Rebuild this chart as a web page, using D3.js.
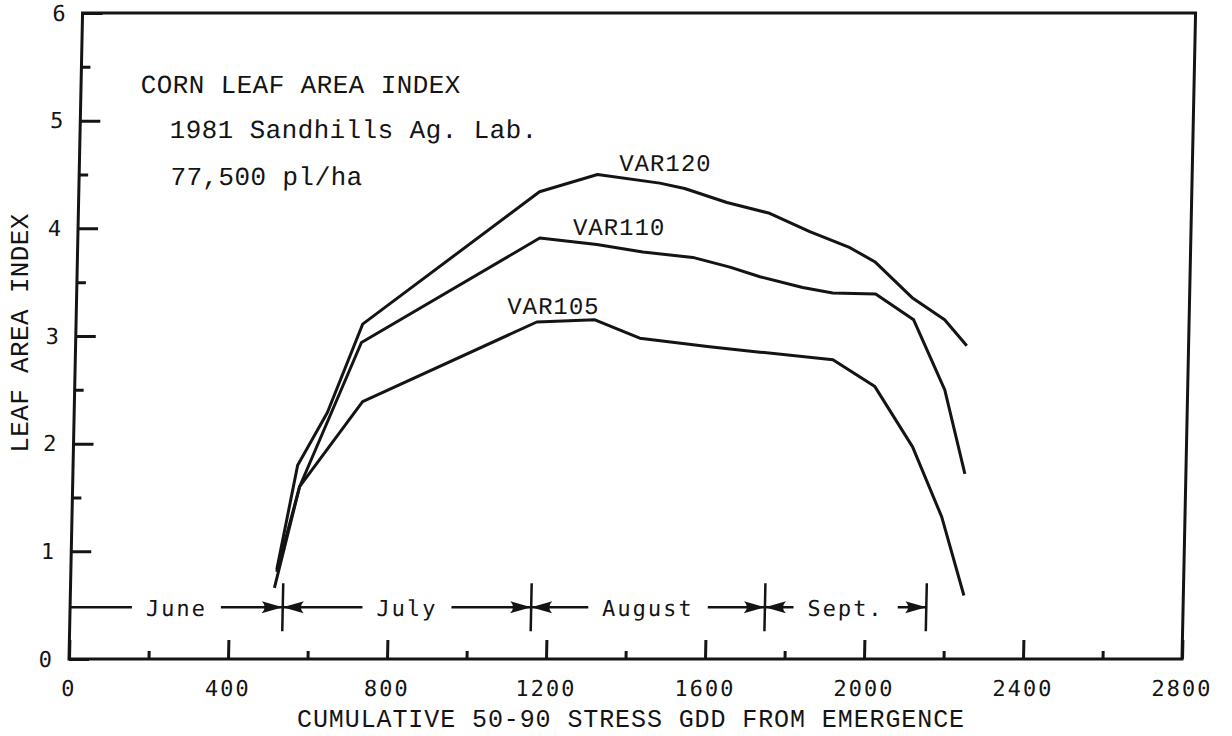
<!DOCTYPE html>
<html><head><meta charset="utf-8">
<script src="https://cdn.jsdelivr.net/npm/d3@7"></script>
<style>body{margin:0;background:#fff}</style>
</head><body>
<svg id="c" width="1232" height="736"></svg>
<script>
// ---- data ----
const gdd120 = [518, 565, 637, 721, 1159, 1304, 1461, 1524, 1631, 1739, 1841, 1943, 2006, 2104, 2185, 2242];
const lai120 = [0.83, 1.80, 2.29, 3.11, 4.34, 4.50, 4.42, 4.37, 4.24, 4.14, 3.97, 3.82, 3.69, 3.35, 3.15, 2.91];
const gdd110 = [518, 571, 719, 1162, 1306, 1422, 1548, 1642, 1718, 1826, 1902, 2010, 2107, 2189, 2244];
const lai110 = [0.81, 1.60, 2.94, 3.91, 3.85, 3.78, 3.73, 3.64, 3.55, 3.45, 3.40, 3.39, 3.15, 2.50, 1.72];
const gdd105 = [513, 571, 725, 1159, 1305, 1419, 1595, 1722, 1906, 2013, 2111, 2188, 2248];
const lai105 = [0.66, 1.60, 2.39, 3.13, 3.15, 2.98, 2.90, 2.85, 2.78, 2.53, 1.97, 1.32, 0.59];
const seriesNames = ["VAR120", "VAR110", "VAR105"];

const months = ["June", "July", "August", "Sept."];
const monthBounds = [0, 535, 1160, 1748, 2154];
const monthLevel = 0.48;

const xMajor = [0, 400, 800, 1200, 1600, 2000, 2400, 2800];
const xMinor = [200, 600, 1000, 1400, 1800, 2200, 2600];
const yMajor = [0, 1, 2, 3, 4, 5, 6];
const yMinor = [1.5, 2.5, 3.5, 4.5, 5.5];

const titleLines = ["CORN LEAF AREA INDEX", "1981 Sandhills Ag. Lab.", "77,500 pl/ha"];
const xTitle = "CUMULATIVE 50-90 STRESS GDD FROM EMERGENCE";
const yTitle = "LEAF AREA INDEX";

// ---- layout ----
const svg = d3.select("#c");
const x = d3.scaleLinear().domain([0, 2800]).range([69, 1182]);
const y = d3.scaleLinear().domain([0, 6]).range([659, 13]);
const ink = "#141414";
const mono = "'Liberation Mono', monospace";
const gothic = "'DejaVu Sans Mono', monospace";
const skewDeg = -Math.atan(0.021) * 180 / Math.PI;

const g = svg.append("g")
  .attr("transform", `translate(0,${y(0)}) skewX(${skewDeg}) translate(0,${-y(0)})`);

// frame
g.append("rect")
  .attr("x", x(0)).attr("y", y(6))
  .attr("width", x(2800) - x(0)).attr("height", y(0) - y(6))
  .attr("fill", "none").attr("stroke", ink).attr("stroke-width", 3);

function styleAxis(sel, w) {
  sel.select(".domain").remove();
  sel.selectAll(".tick line").attr("stroke", ink).attr("stroke-width", w);
  sel.selectAll(".tick text").attr("fill", ink)
    .attr("font-family", gothic).attr("font-size", 22).attr("letter-spacing", 2);
}

g.append("g").attr("transform", `translate(0,${y(0)})`)
  .call(d3.axisBottom(x).tickValues(xMajor).tickSize(-19).tickPadding(21).tickFormat(d3.format("d")))
  .call(s => styleAxis(s, 3));
g.append("g").attr("transform", `translate(0,${y(0)})`)
  .call(d3.axisBottom(x).tickValues(xMinor).tickSize(-8).tickFormat(""))
  .call(s => styleAxis(s, 3));
g.append("g").attr("transform", `translate(${x(0)},0)`)
  .call(d3.axisLeft(y).tickValues(yMajor).tickSize(-20).tickPadding(15).tickFormat(d3.format("d")))
  .call(s => styleAxis(s, 3));
g.append("g").attr("transform", `translate(${x(0)},0)`)
  .call(d3.axisLeft(y).tickValues(yMinor).tickSize(-9).tickFormat(""))
  .call(s => styleAxis(s, 3));

// curves
const line = d3.line().x(d => x(d[0])).y(d => y(d[1]));
[[gdd120, lai120], [gdd110, lai110], [gdd105, lai105]].forEach(([gx, ly]) => {
  g.append("path").datum(d3.zip(gx, ly)).attr("d", line)
    .attr("fill", "none").attr("stroke", ink).attr("stroke-width", 3)
    .attr("stroke-linejoin", "round").attr("stroke-linecap", "butt");
});

// series labels (anchors in data units)
const labelAt = [[1358, 4.53], [1245, 3.94], [1084, 3.20]];
seriesNames.forEach((n, i) => {
  g.append("text").attr("x", x(labelAt[i][0])).attr("y", y(labelAt[i][1]))
    .attr("font-family", mono).attr("font-size", 24).attr("letter-spacing", 1)
    .attr("fill", ink).text(n);
});

// title block
const titleAt = [[150, 5.26], [225, 4.84], [230, 4.40]];
titleLines.forEach((t, i) => {
  g.append("text").attr("x", x(titleAt[i][0])).attr("y", y(titleAt[i][1]))
    .attr("font-family", mono).attr("font-size", 26).attr("letter-spacing", 0.4)
    .attr("fill", ink).text(t);
});

// month bar
const my = y(monthLevel);
months.forEach((m, i) => {
  const b0 = monthBounds[i], b1 = monthBounds[i + 1];
  const t = g.append("text").attr("x", x((b0 + b1) / 2)).attr("y", my + 1)
    .attr("text-anchor", "middle").attr("dominant-baseline", "central")
    .attr("font-family", gothic).attr("font-size", 22).attr("letter-spacing", 2)
    .attr("fill", ink).text(m);
  const bb = t.node().getBBox();
  const pad = 14;
  g.append("line").attr("x1", x(b0)).attr("x2", bb.x - pad).attr("y1", my).attr("y2", my)
    .attr("stroke", ink).attr("stroke-width", 2.5);
  g.append("line").attr("x1", bb.x + bb.width + pad).attr("x2", x(b1)).attr("y1", my).attr("y2", my)
    .attr("stroke", ink).attr("stroke-width", 2.5);
});
monthBounds.slice(1).forEach((b, i, arr) => {
  const bx = x(b);
  g.append("line").attr("x1", bx).attr("x2", bx).attr("y1", my - 24).attr("y2", my + 24)
    .attr("stroke", ink).attr("stroke-width", 2.5);
  g.append("path")
    .attr("d", `M${bx},${my} L${bx - 21},${my - 6} Q${bx - 15},${my} ${bx - 21},${my + 6} Z`)
    .attr("fill", ink);
  if (i < arr.length - 1) {
    g.append("path")
      .attr("d", `M${bx},${my} L${bx + 21},${my - 6} Q${bx + 15},${my} ${bx + 21},${my + 6} Z`)
      .attr("fill", ink);
  }
});

// axis titles
svg.append("text").attr("x", 631).attr("y", 727).attr("text-anchor", "middle")
  .attr("font-family", mono).attr("font-size", 25).attr("letter-spacing", 0.9)
  .attr("fill", ink).text(xTitle);
svg.append("text").attr("transform", "translate(28,333) rotate(-90)").attr("text-anchor", "middle")
  .attr("font-family", mono).attr("font-size", 26).attr("letter-spacing", 0.35)
  .attr("fill", ink).text(yTitle);
</script>
</body></html>
